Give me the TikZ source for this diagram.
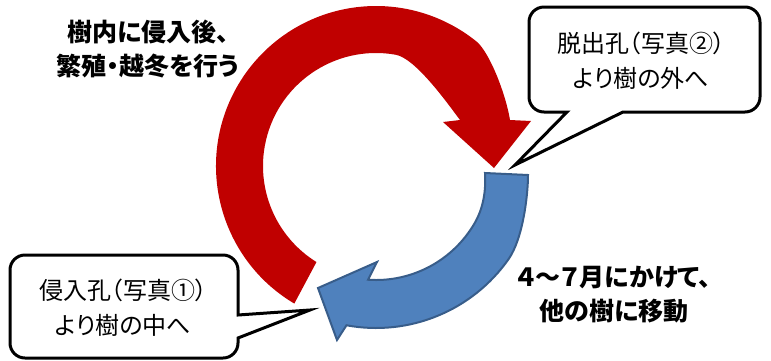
\documentclass[tikz,border=0pt]{standalone}
\usepackage{fontspec}
\newfontfamily\jpfont[RawFeature=+palt]{Noto Sans CJK JP}
\usetikzlibrary{calc}
\definecolor{redc}{HTML}{C00000}
\definecolor{bluefill}{HTML}{4F81BD}
\definecolor{blueline}{HTML}{385D8A}
\tikzset{
  callout/.style={fill=white, draw=black, line width=3, line join=miter},
  bubbletext/.style={font=\jpfont\fontsize{24}{35}\selectfont, align=center, inner sep=0},
  boldtext/.style={font=\jpfont\bfseries\fontsize{25}{34}\selectfont, align=center, inner sep=0},
}
\begin{document}
\begin{tikzpicture}[x=1pt, y=-1pt]
\useasboundingbox (0,0) rectangle (771,360);
\coordinate (C) at (376,166);
% red circular arrow
\fill[redc] ($(C)+(120.7:160)$) arc[start angle=120.7, end angle=309, radius=160]
  .. controls (490,53) and (506,95) .. (510,120) -- (531,121) -- (494,168) -- (443,122) -- (460,120)
  .. controls (448,104) and (415.6,58.2) .. ($(C)+(280:113)$)
  arc[start angle=280, end angle=121.8, radius=113] -- cycle;
% blue circular arrow
\filldraw[fill=bluefill, draw=blueline, line width=2] (528,175)
  .. controls (528,195) and (523,238.4) .. ($(C)+(35:162)$)
  arc[start angle=35, end angle=100.5, radius=162]
  -- (337,340) -- (318,288) -- (377,262) -- ($(C)+(94:114)$)
  arc[start angle=94, end angle=30, radius=114]
  .. controls (483.7,207.4) and (486,190) .. (485,173) -- cycle;
% top-right callout
\draw[callout] (544,7) -- (745,7) arc[start angle=270, end angle=360, radius=15]
  -- (760,97) arc[start angle=0, end angle=90, radius=15]
  -- (623,112) -- (515,165) -- (567,112) -- (544,112)
  arc[start angle=90, end angle=180, radius=15]
  -- (529,22) arc[start angle=180, end angle=270, radius=15] -- cycle;
% bottom-left callout
\draw[callout] (25,255) -- (223,255) arc[start angle=270, end angle=360, radius=15]
  -- (238,315) -- (310,310) -- (238,338) -- (238,343)
  arc[start angle=0, end angle=90, radius=15]
  -- (25,358) arc[start angle=90, end angle=180, radius=15]
  -- (10,270) arc[start angle=180, end angle=270, radius=15] -- cycle;
% texts
\node[bubbletext] (outtext) at (641,60.5) {脱出孔（写真②）\\より樹の外へ};
\node[bubbletext] (intext) at (123,307.5) {侵入孔（写真①）\\より樹の中へ};
\node[boldtext] (toptext) at (148,48.5) {樹内に侵入後、\\繁殖・越冬を行う};
\node[boldtext] (bottext) at (614,295) {４～７月にかけて、\\他の樹に移動};
\end{tikzpicture}
\end{document}
